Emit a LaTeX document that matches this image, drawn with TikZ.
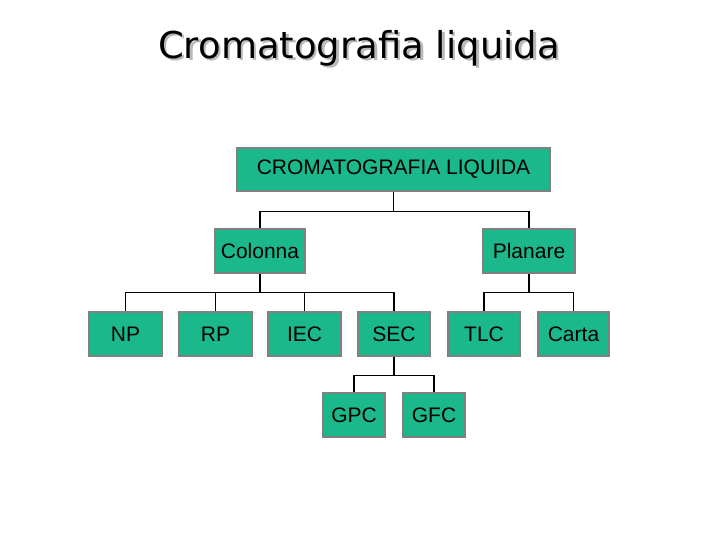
\documentclass[tikz,border=0pt]{standalone}
\usepackage{fontspec}
\setmainfont{Liberation Sans}
\newfontfamily\titlefont{DejaVu Sans}
\definecolor{boxfill}{RGB}{26,184,138}
\definecolor{boxline}{RGB}{128,128,128}
\begin{document}
\begin{tikzpicture}[x=1pt,y=-1pt,
  box/.style={draw=boxline,fill=boxfill,line width=1.3pt,inner sep=0pt,
    font=\fontsize{21}{25}\selectfont},
  conn/.style={draw=black,line width=1.4pt},
  ttl/.style={font=\titlefont\fontsize{37}{42}\selectfont}]
\useasboundingbox (0,0) rectangle (720,540);
% title
\node[ttl,text=gray!55] (shadow) at (361.5,50.5) {Cromatografia liquida};
\node[ttl] (title) at (359,48) {Cromatografia liquida};
% boxes
\node[box,minimum width=313,minimum height=43] (root) at (393.5,169.5) {CROMATOGRAFIA LIQUIDA};
\node[box,minimum width=90,minimum height=44] (col) at (260,251) {Colonna};
\node[box,minimum width=92,minimum height=44] (pla) at (529,251) {Planare};
\node[box,minimum width=73,minimum height=44] (np) at (125.5,334) {NP};
\node[box,minimum width=73,minimum height=44] (rp) at (215.5,334) {RP};
\node[box,minimum width=73,minimum height=44] (iec) at (304.5,334) {IEC};
\node[box,minimum width=72,minimum height=44] (sec) at (394,334) {SEC};
\node[box,minimum width=72,minimum height=44] (tlc) at (484,334) {TLC};
\node[box,minimum width=71,minimum height=44] (carta) at (573.5,334) {Carta};
\node[box,minimum width=62,minimum height=44] (gpc) at (354,415) {GPC};
\node[box,minimum width=62,minimum height=44] (gfc) at (434,415) {GFC};
% connectors
\draw[conn] (root.south) -- ++(0,20) -| (col.north);
\draw[conn] (root.south) ++(0,20) -| (pla.north);
\draw[conn] (col.south) -- ++(0,19) -| (np.north);
\draw[conn] (col.south) ++(0,19) -| (rp.north);
\draw[conn] (col.south) ++(0,19) -| (iec.north);
\draw[conn] (col.south) ++(0,19) -| (sec.north);
\draw[conn] (pla.south) -- ++(0,19) -| (tlc.north);
\draw[conn] (pla.south) ++(0,19) -| (carta.north);
\draw[conn] (sec.south) -- ++(0,19) -| (gpc.north);
\draw[conn] (sec.south) ++(0,19) -| (gfc.north);
\end{tikzpicture}
\end{document}
